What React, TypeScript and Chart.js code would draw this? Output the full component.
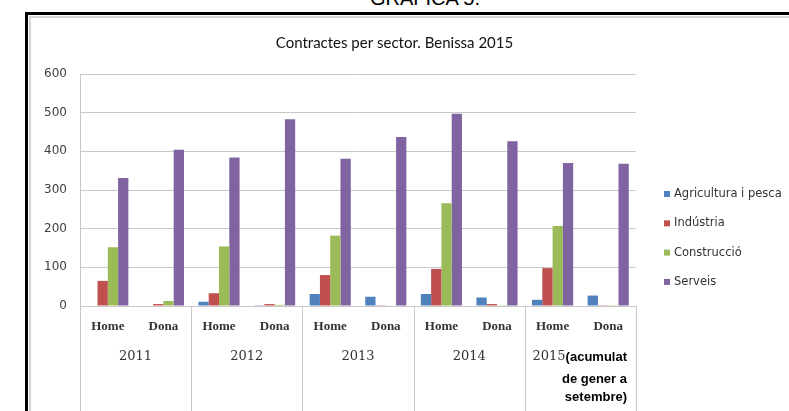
import { useEffect, useRef } from 'react';
import { Chart, registerables } from 'chart.js';

Chart.register(...registerables);

const CATEGORIES = ['Home', 'Dona', 'Home', 'Dona', 'Home', 'Dona', 'Home', 'Dona', 'Home', 'Dona'];
const YEARS = ['2011', '2012', '2013', '2014', '2015'];
const NOTE_LINES = ['(acumulat', 'de gener a', 'setembre)'];
const Y_TICKS = [0, 100, 200, 300, 400, 500, 600];
const SERIES_NAMES = ['Agricultura i pesca', 'Indústria', 'Construcció', 'Serveis'];
const SERIES_COLORS = ['#4F81BD', '#C0504D', '#9BBB59', '#8064A2'];
const AGRICULTURA = [0, 0, 11, 2, 31, 24, 31, 22, 16, 27];
const INDUSTRIA = [65, 5, 33, 5, 80, 2, 96, 5, 98, 2];
const CONSTRUCCIO = [152, 13, 154, 3, 182, 1, 266, 2, 207, 2];
const SERVEIS = [331, 404, 384, 483, 381, 437, 497, 426, 370, 368];
const TITLE = 'Contractes per sector. Benissa 2015';

const groupsPlugin = {
  id: 'groupsPlugin',
  afterDraw(chart: any) {
    const { ctx, chartArea, scales } = chart;
    const x = scales.x;
    const n = YEARS.length;
    ctx.save();
    ctx.strokeStyle = '#c8c8c8';
    ctx.lineWidth = 1;
    for (let g = 0; g <= n; g++) {
      let px: number;
      if (g === 0) px = chartArea.left;
      else if (g === n) px = chartArea.right;
      else px = (x.getPixelForValue(2 * g - 1) + x.getPixelForValue(2 * g)) / 2;
      px = Math.round(px) + 0.5;
      ctx.beginPath();
      ctx.moveTo(px, chartArea.bottom);
      ctx.lineTo(px, chart.height);
      ctx.stroke();
    }
    const yearY = chartArea.bottom + 51;
    ctx.textBaseline = 'middle';
    const yearFont = '13px "DejaVu Serif", serif';
    const noteFont = 'bold 13px "Liberation Sans", Arial, sans-serif';
    for (let g = 0; g < n - 1; g++) {
      const c = (x.getPixelForValue(2 * g) + x.getPixelForValue(2 * g + 1)) / 2;
      ctx.font = yearFont;
      ctx.fillStyle = '#333';
      ctx.textAlign = 'center';
      ctx.fillText(YEARS[g], c, yearY);
    }
    const noteRight = chartArea.right - 9;
    ctx.font = noteFont;
    const w = ctx.measureText(NOTE_LINES[0]).width;
    ctx.fillStyle = '#000';
    ctx.textAlign = 'right';
    ctx.fillText(NOTE_LINES[0], noteRight, yearY);
    ctx.fillText(NOTE_LINES[1], noteRight, yearY + 22);
    ctx.fillText(NOTE_LINES[2], noteRight, yearY + 40);
    ctx.font = yearFont;
    ctx.fillStyle = '#333';
    ctx.fillText(YEARS[n - 1], noteRight - w, yearY);

    // legend
    ctx.font = '11.5px "DejaVu Sans", sans-serif';
    ctx.textAlign = 'left';
    chart.data.datasets.forEach((ds: any, i: number) => {
      const ly = chartArea.top + 120 + i * 29.3;
      ctx.fillStyle = ds.backgroundColor;
      ctx.fillRect(chartArea.right + 28, ly - 3, 6, 6);
      ctx.fillStyle = '#333';
      ctx.fillText(ds.label, chartArea.right + 38, ly);
    });
    ctx.restore();
  },
};

export default function App() {
  const ref = useRef<HTMLCanvasElement | null>(null);
  useEffect(() => {
    if (!ref.current) return;
    const series = [AGRICULTURA, INDUSTRIA, CONSTRUCCIO, SERVEIS];
    const chart = new Chart(ref.current, {
      type: 'bar',
      data: {
        labels: CATEGORIES,
        datasets: series.map((d, i) => ({
          label: SERIES_NAMES[i],
          data: d,
          backgroundColor: SERIES_COLORS[i],
          borderWidth: 0,
          categoryPercentage: 0.74,
          barPercentage: 1,
        })),
      },
      options: {
        animation: false,
        responsive: false,
        maintainAspectRatio: false,
        devicePixelRatio: 1,
        layout: { padding: 0 },
        plugins: {
          legend: { display: false },
          tooltip: { enabled: false },
          title: {
            display: true,
            text: TITLE,
            color: '#111',
            font: { family: 'Lato', size: 15, weight: 'normal' },
            padding: { top: 34, bottom: 22 },
          },
        },
        scales: {
          x: {
            grid: { display: false, drawTicks: false },
            border: { display: false },
            ticks: {
              color: '#333',
              font: { family: '"Liberation Serif"', size: 13, weight: 'bold' },
              padding: 13,
              maxRotation: 0,
              autoSkip: false,
            },
            afterFit: (s: any) => {
              s.height = 105;
            },
          },
          y: {
            min: 0,
            max: 600,
            grid: { color: '#c8c8c8', drawTicks: false },
            border: { display: true, color: '#c8c8c8' },
            ticks: {
              color: '#404040',
              font: { family: '"DejaVu Sans"', size: 12 },
              padding: 13,
            },
            afterBuildTicks: (s: any) => {
              s.ticks = Y_TICKS.map((v) => ({ value: v }));
            },
            afterFit: (s: any) => {
              s.width = 80;
            },
          },
          yR: {
            position: 'right',
            display: true,
            grid: { display: false, drawTicks: false },
            border: { display: false },
            ticks: { display: false },
            afterFit: (s: any) => {
              s.width = 153;
            },
          },
        },
      },
      plugins: [groupsPlugin],
    } as any);
    return () => chart.destroy();
  }, []);

  return (
    <div style={{ position: 'fixed', left: 0, top: 0, width: 789, height: 411, overflow: 'hidden', background: '#fff' }}>
      <div
        style={{
          position: 'absolute',
          left: 0,
          top: -13,
          width: 850,
          textAlign: 'center',
          font: '20px "Liberation Sans", Arial, sans-serif',
          color: '#000',
        }}
      >
        GRÀFICA 5.
      </div>
      <div
        style={{
          position: 'absolute',
          left: 25,
          top: 12,
          width: 900,
          height: 500,
          borderLeft: '3px solid #000',
          borderTop: '3px solid #000',
        }}
      >
        <div
          style={{
            position: 'absolute',
            left: 1,
            top: 1,
            right: 0,
            bottom: 0,
            borderLeft: '2px solid #d4d4d4',
            borderTop: '2px solid #d4d4d4',
          }}
        />
      </div>
      <canvas ref={ref} width={789} height={411} style={{ position: 'absolute', left: 0, top: 0, width: 789, height: 411 }} />
    </div>
  );
}
